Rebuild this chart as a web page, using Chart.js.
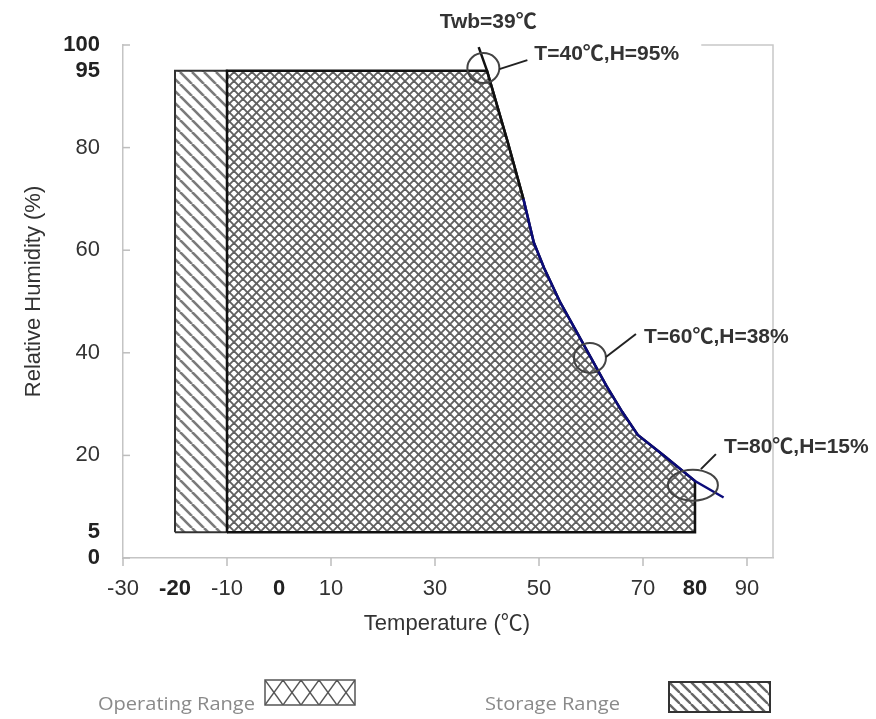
<!DOCTYPE html>
<html><head><meta charset="utf-8">
<script src="https://cdn.jsdelivr.net/npm/chart.js@4.4.1/dist/chart.umd.min.js"></script>
<style>html,body{margin:0;padding:0;background:#fff;} #wrap{width:876px;height:719px;}</style>
</head><body><div id="wrap"><canvas id="c" width="876" height="719"></canvas></div>
<script>
// ---- data ----
const xTickLabels = [-30, -20, -10, 0, 10, 30, 50, 70, 80, 90];
const xTickMarks = [-30, -10, 10, 30, 50, 70, 90];
const xBold = [-20, 0, 80];
const yTickLabels = [0, 5, 20, 40, 60, 80, 95, 100];
const yTickMarks = [0, 20, 40, 60, 80, 100];
const yBold = [0, 5, 95, 100];

const storageT = [-20, -20, -10, -10, -20];
const storageH = [5, 95, 95, 5, 5];

const operatingT = [-10, -10, 40, 44, 47, 49, 51, 54, 57, 60, 63, 66, 69, 74, 80, 80, -10];
const operatingH = [5, 95, 95, 81, 70, 61.5, 56.5, 50, 44.5, 39, 33.5, 28.5, 24, 20, 15, 5, 5];

// Twb=39℃ line: extends beyond the boundary curve at both ends
const twbStartT = 38.4, twbStartH = 99.6;
const twbEndT = 85.5, twbEndH = 11.8;

const markerT = [39.3, 59.8, 79.6];
const markerH = [95.5, 39, 14.2];
const markerLabels = ['T=40℃,H=95%', 'T=60℃,H=38%', 'T=80℃,H=15%'];
const twbLabel = 'Twb=39℃';
const xTitle = 'Temperature (℃)';
const yTitle = 'Relative Humidity (%)';
const legendLabels = ['Operating Range', 'Storage Range'];

// ---- styles ----
const canvas = document.getElementById('c');
const mainCtx = canvas.getContext('2d');
function makePattern(w, h, draw) {
  const c = document.createElement('canvas'); c.width = w; c.height = h;
  const g = c.getContext('2d'); g.fillStyle = '#fff'; g.fillRect(0, 0, w, h);
  draw(g, w, h);
  return mainCtx.createPattern(c, 'repeat');
}
function crossDraw(color, lw) {
  return (g, w, h) => {
    g.strokeStyle = color; g.lineWidth = lw;
    for (const d of [-w, 0, w]) {
      g.beginPath(); g.moveTo(d, 0); g.lineTo(d + w, h); g.stroke();
      g.beginPath(); g.moveTo(d + w, 0); g.lineTo(d, h); g.stroke();
    }
  };
}
function hatchDraw(color, lw) {
  return (g, w, h) => {
    g.strokeStyle = color; g.lineWidth = lw;
    for (const d of [-w, 0, w]) { g.beginPath(); g.moveTo(d, 0); g.lineTo(d + w, h); g.stroke(); }
  };
}
const crossPat = makePattern(9, 9, crossDraw('#606060', 1.9));
const hatchPat = makePattern(12, 12, hatchDraw('#7a7a7a', 2.6));
const legCrossPat = makePattern(18, 25, crossDraw('#555', 1.4));
const legHatchPat = makePattern(11, 11, hatchDraw('#666', 2.4));

const pts = (xs, ys) => xs.map((v, i) => ({ x: v, y: ys[i] }));
// Twb line follows the upper-right boundary (points 2..14 of the operating polygon)
const twbData = [{ x: twbStartT, y: twbStartH }]
  .concat(pts(operatingT, operatingH).slice(2, 15))
  .concat([{ x: twbEndT, y: twbEndH }]);

const FAM = '"Liberation Sans", Arial, "Noto Sans CJK SC", sans-serif';

const circleR = [[16, 15], [16, 15], [25, 15.5]];
const connectors = [[16, 1, 44, -8], [16, -1, 46, -24], [8, -16, 23, -31]];
const labelOff = [[51, -8], [54, -15], [31, -32]];

const deco = {
  id: 'deco',
  afterDraw(chart) {
    const { ctx, chartArea: a, scales: { x, y } } = chart;
    ctx.save();
    const line = (x1, y1, x2, y2) => { ctx.beginPath(); ctx.moveTo(x1, y1); ctx.lineTo(x2, y2); ctx.stroke(); };
    // partial frame
    ctx.strokeStyle = '#c8c8c8'; ctx.lineWidth = 1.5;
    ctx.beginPath(); ctx.moveTo(x.getPixelForValue(81.2), a.top); ctx.lineTo(a.right, a.top); ctx.lineTo(a.right, a.bottom); ctx.stroke();
    // tick marks
    ctx.strokeStyle = '#bdbdbd'; ctx.lineWidth = 1.5;
    xTickMarks.forEach(v => { const px = x.getPixelForValue(v); line(px, a.bottom, px, a.bottom + 8); });
    yTickMarks.forEach(v => { const py = y.getPixelForValue(v); line(a.left, py, a.left + 7, py); });
    // axis titles
    ctx.fillStyle = '#333'; ctx.font = '22px ' + FAM; ctx.textBaseline = 'alphabetic'; ctx.textAlign = 'center';
    ctx.fillText(xTitle, (a.left + a.right) / 2 - 1, 630);
    ctx.save(); ctx.translate(40, (a.top + a.bottom) / 2 - 10); ctx.rotate(-Math.PI / 2); ctx.fillText(yTitle, 0, 0); ctx.restore();
    // markers
    markerT.forEach((t, i) => {
      const cx = x.getPixelForValue(t), cy = y.getPixelForValue(markerH[i]);
      ctx.strokeStyle = '#444'; ctx.lineWidth = 2;
      ctx.beginPath(); ctx.ellipse(cx, cy, circleR[i][0], circleR[i][1], 0, 0, Math.PI * 2); ctx.stroke();
      const c = connectors[i];
      ctx.strokeStyle = '#222'; ctx.lineWidth = 2;
      line(cx + c[0], cy + c[1], cx + c[2], cy + c[3]);
      ctx.fillStyle = '#333'; ctx.font = 'bold 21px ' + FAM; ctx.textAlign = 'left';
      ctx.fillText(markerLabels[i], cx + labelOff[i][0], cy + labelOff[i][1]);
    });
    // Twb label
    const tx = x.getPixelForValue(twbStartT), ty = y.getPixelForValue(twbStartH);
    ctx.fillStyle = '#333'; ctx.font = 'bold 21px ' + FAM; ctx.textAlign = 'left';
    ctx.fillText(twbLabel, tx - 39, ty - 19);
    // legend
    const fitText = (s, x0, y0, w) => {
      const m = ctx.measureText(s).width;
      ctx.save(); ctx.translate(x0, y0); ctx.scale(w / m, 1); ctx.fillText(s, 0, 0); ctx.restore();
    };
    ctx.font = '18px "Open Sans", Lato, sans-serif'; ctx.fillStyle = '#8a8a8a'; ctx.textAlign = 'left';
    fitText(legendLabels[0], 98, 710, 157);
    fitText(legendLabels[1], 485, 710, 135);
    const box = (bx, by, bw, bh, pat, bc, lw) => {
      ctx.save(); ctx.translate(bx, by); ctx.fillStyle = pat; ctx.fillRect(0, 0, bw, bh);
      ctx.strokeStyle = bc; ctx.lineWidth = lw; ctx.strokeRect(0, 0, bw, bh); ctx.restore();
    };
    box(265, 680, 90, 25, legCrossPat, '#555', 1.5);
    box(669, 682, 101, 30, legHatchPat, '#333', 2);
    ctx.restore();
  }
};

const tickFont = (bold) => (c) => ({ family: FAM, size: 22, weight: bold.includes(c.tick && c.tick.value) ? 'bold' : 'normal' });
const tickColor = (bold) => (c) => bold.includes(c.tick && c.tick.value) ? '#222' : '#333';

new Chart(canvas, {
  type: 'scatter',
  data: {
    datasets: [
      { label: 'Storage Range', data: pts(storageT, storageH), showLine: true, fill: 'shape', backgroundColor: hatchPat,
        borderColor: '#333', borderWidth: 2, pointRadius: 0, order: 3 },
      { label: 'Operating Range', data: pts(operatingT, operatingH), showLine: true, fill: 'shape', backgroundColor: crossPat,
        borderColor: '#111', borderWidth: 2.5, pointRadius: 0, order: 2 },
      { label: 'Twb', data: twbData, showLine: true, fill: false, borderColor: '#111', borderWidth: 2.5,
        pointRadius: 0, order: 1,
        segment: { borderColor: c => (c.p0DataIndex >= 3 && c.p0DataIndex <= 13) ? '#0b0b7a' : '#111' } }
    ]
  },
  options: {
    responsive: false, devicePixelRatio: 1, animation: false,
    layout: { padding: { top: 45, right: 103, left: 0, bottom: 0 } },
    plugins: { legend: { display: false }, tooltip: { enabled: false } },
    scales: {
      x: {
        type: 'linear', min: -30, max: 95,
        afterBuildTicks: s => { s.ticks = xTickLabels.map(v => ({ value: v })); },
        afterFit: s => { s.height = 161; },
        grid: { display: false, drawTicks: false },
        border: { display: true, color: '#c4c4c4', width: 1.5 },
        ticks: { padding: 18, maxRotation: 0, autoSkip: false, color: tickColor(xBold), font: tickFont(xBold), callback: v => String(v) }
      },
      y: {
        type: 'linear', min: 0, max: 100,
        afterBuildTicks: s => { s.ticks = yTickLabels.map(v => ({ value: v })); },
        afterFit: s => { s.width = 123; },
        grid: { display: false, drawTicks: false },
        border: { display: true, color: '#c4c4c4', width: 1.5 },
        ticks: { padding: 23, autoSkip: false, color: tickColor(yBold), font: tickFont(yBold), callback: v => String(v) }
      }
    }
  },
  plugins: [deco]
});
</script></body></html>
